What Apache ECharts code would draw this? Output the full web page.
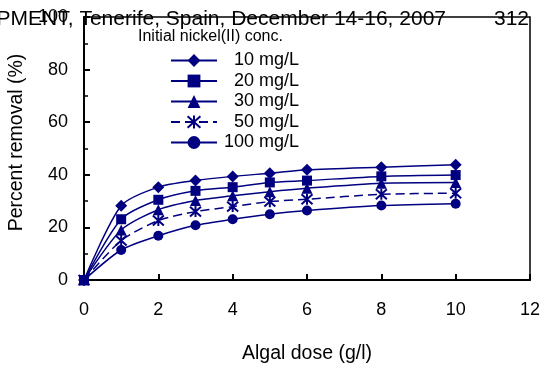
<!DOCTYPE html>
<html>
<head>
<meta charset="utf-8">
<script src="https://cdn.jsdelivr.net/npm/echarts@6/dist/echarts.min.js"></script>
<style>
  html, body { margin: 0; padding: 0; background: #fff; }
  #main { width: 553px; height: 365px; }
</style>
</head>
<body>
<div id="main"></div>
<script>
    // algal dose (g/l)
    var dose = [0, 1, 2, 3, 4, 5, 6, 8, 10];
    var seriesNames = ['10 mg/L', '20 mg/L', '30 mg/L', '50 mg/L', '100 mg/L'];
    var ni10 = [0, 28.2, 35.3, 37.8, 39.4, 40.6, 41.9, 42.9, 43.8];
    var ni20 = [0, 23.1, 30.5, 33.9, 35.3, 37.1, 37.8, 39.4, 39.9];
    var ni30 = [0, 19.0, 26.7, 30.2, 32.0, 33.6, 34.9, 36.8, 37.1];
    var ni50 = [0, 15.0, 22.6, 26.0, 27.9, 29.8, 30.7, 32.6, 33.0];
    var ni100 = [0, 11.4, 16.8, 20.8, 23.1, 25.0, 26.4, 28.3, 29.0];
    var xTicks = [0, 2, 4, 6, 8, 10, 12];
    var yTicks = [0, 20, 40, 60, 80, 100];

    var navy = '#000080';
    var font = 'Liberation Sans, Arial, sans-serif';
    var star = 'path://M0,-10L0,10M-9,-9L9,9M-9,9L9,-9';

    function pairs(vals) {
        var out = [];
        for (var i = 0; i < dose.length; i++) {
            out.push([dose[i], vals[i]]);
        }
        return out;
    }

    function mkSeries(name, vals, symbol, size, dashed) {
        var s = {
            name: name,
            type: 'line',
            data: pairs(vals),
            smooth: 0.25,
            symbol: symbol,
            symbolSize: size,
            lineStyle: { color: navy, width: 1.5, type: dashed ? [9, 5] : 'solid' },
            itemStyle: { color: navy },
            animation: false
        };
        if (symbol === star) {
            s.itemStyle = { color: 'none', borderColor: navy, borderWidth: 2 };
        }
        return s;
    }

    var myChart = echarts.init(document.getElementById('main'));
    var option = {
        textStyle: { fontFamily: font },
        title: {
            text: 'Initial nickel(II) conc.',
            left: 133,
            top: 24,
            textStyle: { fontSize: 16, fontWeight: 'normal', color: '#000', fontFamily: font }
        },
        graphic: [
            {
                type: 'text',
                x: 446,
                y: 9,
                style: { text: 'PMENT, Tenerife, Spain, December 14-16, 2007', textAlign: 'right', fontSize: 21, fill: '#000', fontFamily: font }
            },
            {
                type: 'text',
                x: 529,
                y: 9,
                style: { text: '312', textAlign: 'right', fontSize: 21, fill: '#000', fontFamily: font }
            }
        ],
        legend: {
            orient: 'vertical',
            left: 165,
            top: 46.5,
            itemGap: 2.5,
            itemWidth: 46,
            itemHeight: 16,
            data: seriesNames,
            formatter: function (name) { return '{a|' + name + '}'; },
            textStyle: {
                color: '#000',
                fontFamily: font,
                rich: { a: { fontSize: 18, lineHeight: 20, width: 77, align: 'right', color: '#000', fontFamily: font } }
            }
        },
        grid: {
            left: 84,
            right: 23,
            top: 17,
            bottom: 85,
            show: true,
            borderColor: '#000',
            borderWidth: 1.5,
            outerBoundsMode: 'none'
        },
        xAxis: {
            type: 'value',
            min: xTicks[0],
            max: xTicks[xTicks.length - 1],
            interval: 2,
            name: 'Algal dose (g/l)',
            nameLocation: 'middle',
            nameGap: 64,
            nameTextStyle: { fontSize: 19.5, color: '#000' },
            axisLine: { lineStyle: { color: '#000', width: 2 } },
            axisTick: { inside: true, length: 6, lineStyle: { color: '#000', width: 2 } },
            axisLabel: { fontSize: 18, color: '#000', margin: 21 },
            splitLine: { show: false }
        },
        yAxis: {
            type: 'value',
            min: yTicks[0],
            max: yTicks[yTicks.length - 1],
            interval: 20,
            name: 'Percent removal (%)',
            nameLocation: 'middle',
            nameGap: 51,
            nameTextStyle: { fontSize: 19.5, color: '#000', padding: [0, 0, 0, 12] },
            axisLine: { lineStyle: { color: '#000', width: 2 } },
            axisTick: { inside: true, length: 6, lineStyle: { color: '#000', width: 2 } },
            minorTick: { show: true, splitNumber: 2, length: 4, lineStyle: { color: '#000', width: 1.5 } },
            axisLabel: { fontSize: 18, color: '#000', margin: 16 },
            splitLine: { show: false }
        },
        series: [
            mkSeries(seriesNames[0], ni10, 'diamond', 12, false),
            mkSeries(seriesNames[1], ni20, 'rect', 10, false),
            mkSeries(seriesNames[2], ni30, 'triangle', 11, false),
            mkSeries(seriesNames[3], ni50, star, 11, true),
            mkSeries(seriesNames[4], ni100, 'circle', 10, false)
        ]
    };
    myChart.setOption(option);
</script>
</body>
</html>
